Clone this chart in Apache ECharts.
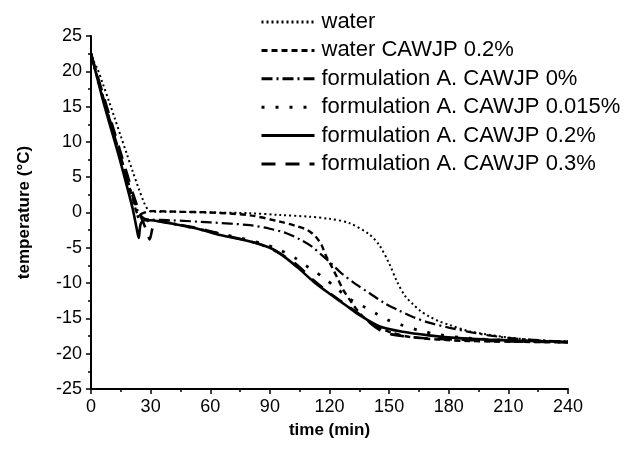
<!DOCTYPE html>
<html>
<head>
<meta charset="utf-8">
<script src="https://cdn.jsdelivr.net/npm/echarts@6/dist/echarts.min.js"></script>
<style>html,body{margin:0;padding:0;background:#fff}#c{width:641px;height:449px}</style>
</head>
<body>
<div id="c"></div>
<script>
const seriesNames = ['water', 'water CAWJP 0.2%', 'formulation A. CAWJP 0%', 'formulation A. CAWJP 0.015%', 'formulation A. CAWJP 0.2%', 'formulation A. CAWJP 0.3%'];
const xTicks = [0, 30, 60, 90, 120, 150, 180, 210, 240];
const yTicks = [-25, -20, -15, -10, -5, 0, 5, 10, 15, 20, 25];

const waterT = [0,3,6,9,12,15,18,21,24,27,29,31,40,60,80,95,110,120,130,140,145,150,154,158,162,166,170,175,180,190,200,210,220,230,240];
const waterV = [22,20.5,18.2,15.8,13.3,10.8,8.3,5.8,3.4,1.2,0.3,0.1,0.1,0,-0.1,-0.35,-0.6,-0.9,-1.5,-3.1,-4.6,-7.2,-9.8,-11.8,-13.0,-14.0,-14.7,-15.4,-15.9,-16.8,-17.3,-17.7,-18.0,-18.2,-18.3];

const waterCawT = [0,3,6,9,12,15,18,21,24,27,30,45,60,80,95,103,109,113,116,118,121,124,127,130,133,137,142,150,160,175,190,210,240];
const waterCawV = [22.5,19.3,16.2,13.3,10.4,7.6,4.8,2.0,-0.3,0.0,0.2,0.1,0,-0.4,-1.3,-1.9,-2.5,-3.4,-4.6,-6.0,-7.6,-9.3,-11.0,-12.3,-13.5,-14.8,-15.9,-16.9,-17.6,-18.0,-18.2,-18.3,-18.4];

const f0T = [0,3,6,9,12,15,18,21,24,27,30,40,60,80,90,98,105,111,116,120,126,133,140,148,155,162,170,180,190,200,215,240];
const f0V = [22.5,19.5,16.5,13.6,10.7,7.9,5.0,2.2,0,-0.9,-1.0,-1.1,-1.4,-1.8,-2.3,-2.9,-3.8,-4.8,-6.0,-7.0,-8.6,-10.1,-11.4,-12.9,-13.9,-14.8,-15.6,-16.3,-16.9,-17.4,-17.9,-18.3];

const f015T = [0,3,6,9,12,15,18,21,24,26,28,30,40,55,70,85,95,103,110,117,123,130,137,144,150,157,165,175,190,210,240];
const f015V = [22.5,19.4,16.3,13.4,10.5,7.6,4.7,1.8,-0.8,-1.5,-1.2,-1.0,-1.5,-2.4,-3.3,-4.3,-5.3,-6.5,-7.9,-9.2,-10.6,-12.2,-13.3,-14.4,-15.3,-16.0,-16.7,-17.3,-17.8,-18.1,-18.3];

const f02T = [0,3,6,9,12,15,18,21,23,24,25,27,30,35,45,55,65,80,90,96,104,112,120,128,135,145,157,170,185,200,220,240];
const f02V = [22.5,19.2,15.9,12.9,10.0,7.0,3.8,0.5,-2.3,-3.6,-1.6,-1.1,-1.1,-1.3,-1.8,-2.4,-3.2,-4.1,-5.0,-6.0,-7.8,-9.8,-11.5,-13.1,-14.5,-16.1,-16.9,-17.4,-17.8,-18.0,-18.2,-18.3];

const f03T = [0,3,6,9,12,15,18,21,24,26,28,29.5,31,33,40,55,70,85,95,104,112,120,128,136,145,152,160,172,186,200,220,240];
const f03V = [22.5,19.6,16.8,14.0,11.2,8.4,5.6,2.8,0.3,-1.2,-2.6,-3.8,-2.2,-1.2,-1.5,-2.3,-3.4,-4.5,-5.8,-7.5,-9.6,-11.4,-13.0,-14.6,-16.6,-17.3,-17.6,-17.9,-18.0,-18.2,-18.3,-18.4];

const seriesT = [waterT, waterCawT, f0T, f015T, f02T, f03T];
const seriesV = [waterV, waterCawV, f0V, f015V, f02V, f03V];
const dashTypes = [[2, 3], [6, 4], [11, 4, 2, 4], [3, 11], 'solid', [14, 10]];
const widths = [2, 2.4, 2.2, 2.8, 2.6, 2.6];

const FONT = 'Liberation Sans, Arial, sans-serif';
const chart = echarts.init(document.getElementById('c'), null, {renderer: 'canvas'});

const series = seriesNames.map((n, i) => ({
  name: n,
  type: 'line',
  symbol: 'none',
  smooth: 0.3,
  data: seriesT[i].map((t, k) => [t, seriesV[i][k]]),
  lineStyle: {color: '#000', width: widths[i], type: dashTypes[i]},
  itemStyle: {color: '#000'},
  animation: false
}));

chart.setOption({
  animation: false,
  backgroundColor: '#fff',
  grid: {left: 91, right: 73, top: 36, bottom: 60, containLabel: false},
  legend: {
    orient: 'vertical',
    left: 255, top: 6,
    itemWidth: 53, itemHeight: 14, itemGap: 6.4,
    data: seriesNames,
    itemStyle: {opacity: 0},
    textStyle: {fontFamily: FONT, fontSize: 22, color: '#000', lineHeight: 21, padding: [0, 0, 0, 2]},
    lineStyle: {width: 3}
  },
  xAxis: {
    type: 'value', min: 0, max: 240, interval: 30,
    name: 'time (min)', nameLocation: 'middle', nameGap: 33,
    nameTextStyle: {fontFamily: FONT, fontSize: 17, fontWeight: 'bold', color: '#000'},
    axisLine: {show: true, onZero: false, lineStyle: {color: '#000', width: 2}},
    axisTick: {show: true, length: 5, lineStyle: {color: '#000', width: 1.5}},
    minorTick: {show: true, splitNumber: 2, length: 3, lineStyle: {color: '#000', width: 1.5}},
    axisLabel: {fontFamily: FONT, fontSize: 18, color: '#000', margin: 9},
    splitLine: {show: false}
  },
  yAxis: {
    type: 'value', min: -25, max: 25, interval: 5,
    name: 'temperature (°C)', nameLocation: 'middle', nameGap: 58, nameRotate: 90,
    nameTextStyle: {fontFamily: FONT, fontSize: 17, fontWeight: 'bold', color: '#000'},
    axisLine: {show: true, onZero: false, lineStyle: {color: '#000', width: 2}},
    axisTick: {show: true, length: 5, lineStyle: {color: '#000', width: 1.5}},
    minorTick: {show: true, splitNumber: 2, length: 3, lineStyle: {color: '#000', width: 1.5}},
    axisLabel: {fontFamily: FONT, fontSize: 18, color: '#000', margin: 9},
    splitLine: {show: false}
  },
  series: series
});
</script>
</body>
</html>
